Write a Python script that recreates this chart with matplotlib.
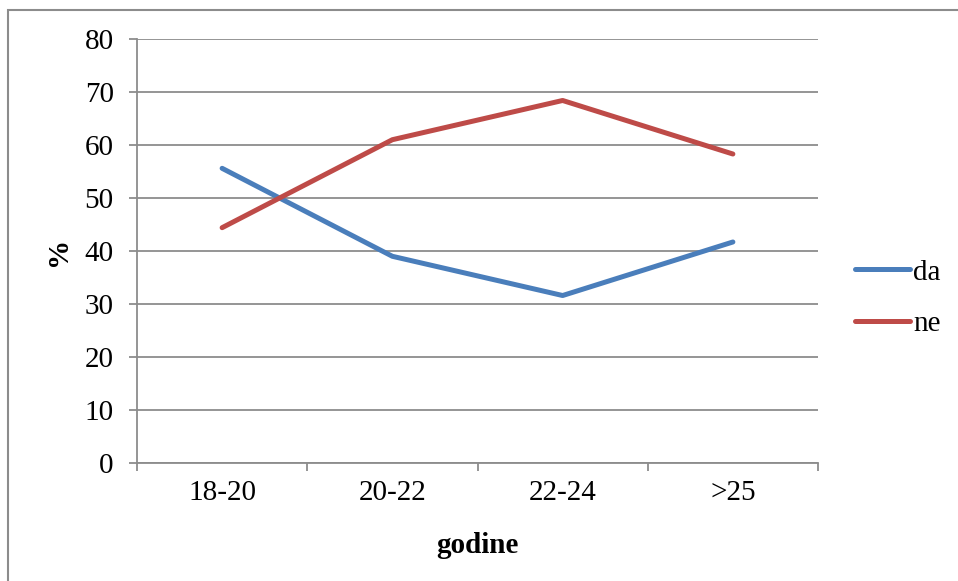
import matplotlib
matplotlib.use('Agg')
import matplotlib.pyplot as plt
from matplotlib.patches import Rectangle

plt.rcParams['font.family'] = ['Liberation Serif', 'DejaVu Serif']

categories = ['18-20', '20-22', '22-24', '>25']
da = [55.6, 39.0, 31.6, 41.7]
ne = [44.4, 61.0, 68.4, 58.3]

fs = 21
grey = '#8c8c8c'

fig = plt.figure(figsize=(9.58, 5.81), dpi=100)
ax = fig.add_axes([137/958, 1-463/581, (818-137)/958, (463-39)/581])

x = list(range(len(categories)))
ax.plot(x, da, color='#4A7EBB', lw=3.6, label='da', solid_capstyle='round')
ax.plot(x, ne, color='#BE4B48', lw=3.6, label='ne', solid_capstyle='round')

ax.set_xlim(-0.5, len(categories) - 0.5)
ax.set_ylim(0, 80)
ax.set_yticks(range(0, 81, 10))
ax.set_xticks(x)
ax.set_xticklabels(categories)
ax.set_xticks([i - 0.5 for i in range(len(categories) + 1)], minor=True)

ax.yaxis.grid(True, color=grey, lw=1.3)
ax.set_axisbelow(True)
for s in ['top', 'right']:
    ax.spines[s].set_visible(False)
for s in ['left', 'bottom']:
    ax.spines[s].set_color(grey)
    ax.spines[s].set_linewidth(1.3)

ax.tick_params(axis='y', direction='out', length=5.8, width=1.3, color=grey,
               pad=11, labelsize=fs)
ax.tick_params(axis='x', which='major', length=0, pad=12.5, labelsize=fs)
ax.tick_params(axis='x', which='minor', direction='out', length=5.8, width=1.3,
               color=grey)

ax.set_xlabel('godine', fontsize=fs, fontweight='bold', labelpad=18.5)
ax.set_ylabel('%', fontsize=fs, fontweight='bold', labelpad=9)

ax.legend(loc='center left', bbox_to_anchor=(855/958, 1-298/581),
          bbox_transform=fig.transFigure, frameon=False, fontsize=fs,
          handlelength=1.9, handletextpad=0.1, labelspacing=0.85,
          borderaxespad=0, borderpad=0)

fig.patches.append(Rectangle((8/958, -0.2), 1.5, 1-10/581+0.2,
                             transform=fig.transFigure, fill=False,
                             edgecolor=grey, lw=1.5))

fig.savefig('out.png', dpi=100)
